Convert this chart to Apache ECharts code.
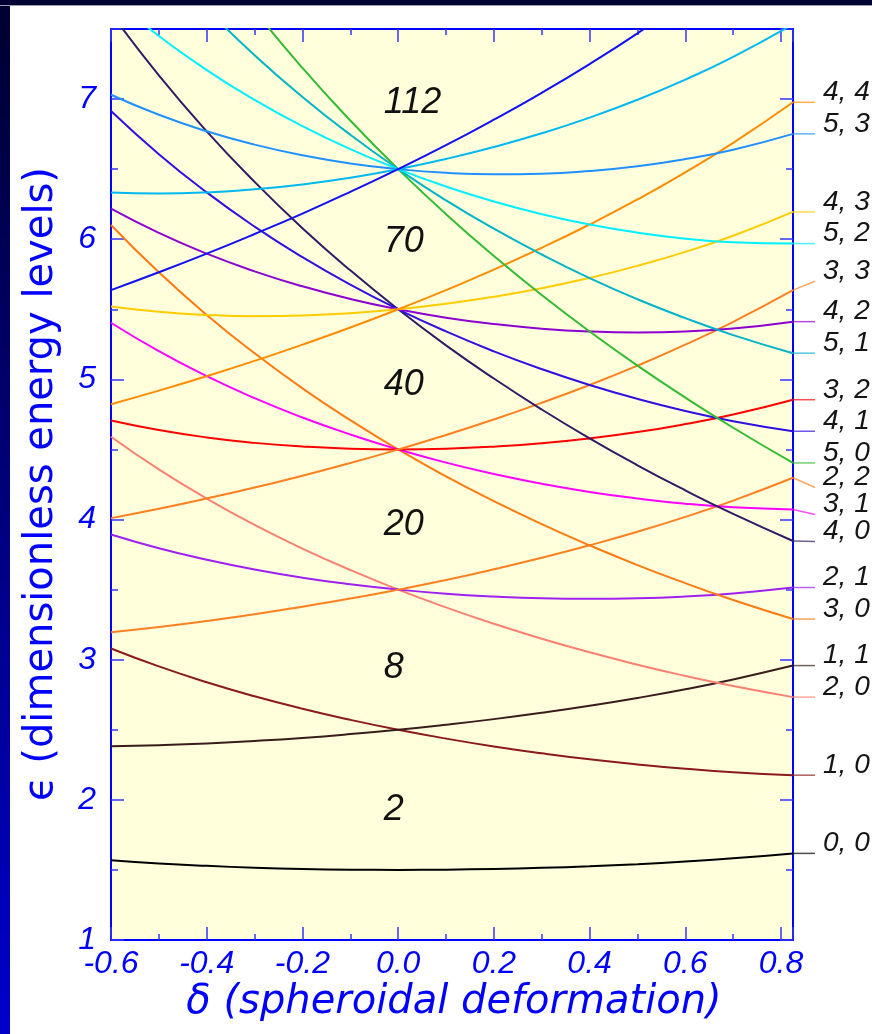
<!DOCTYPE html>
<html><head><meta charset="utf-8">
<script src="https://cdn.jsdelivr.net/npm/echarts@6/dist/echarts.min.js"></script>
<style>html,body{margin:0;padding:0;background:#fff;}#c{width:872px;height:1034px;}</style>
</head><body><div id="c"></div>
<script>
// deformation values (x)
const deltas = [-0.6, -0.5, -0.4, -0.3, -0.2, -0.1, 0, 0.1, 0.2, 0.3, 0.4, 0.5, 0.6, 0.7, 0.825];
// energy levels (N, n_perp)
const e_0_0 = [1.569,1.546,1.529,1.516,1.507,1.502,1.500,1.502,1.507,1.515,1.526,1.541,1.560,1.583,1.618];
const e_1_0 = [3.080,2.952,2.839,2.739,2.650,2.571,2.500,2.437,2.381,2.332,2.289,2.253,2.222,2.197,2.176];
const e_1_1 = [2.383,2.390,2.402,2.420,2.442,2.469,2.500,2.536,2.576,2.621,2.671,2.727,2.789,2.859,2.958];
const e_2_0 = [4.591,4.358,4.150,3.962,3.793,3.640,3.500,3.373,3.256,3.150,3.053,2.964,2.884,2.812,2.733];
const e_2_1 = [3.893,3.795,3.713,3.643,3.585,3.538,3.500,3.471,3.451,3.438,3.434,3.438,3.451,3.473,3.515];
const e_2_2 = [3.196,3.233,3.276,3.324,3.378,3.436,3.500,3.569,3.645,3.727,3.816,3.913,4.019,4.135,4.298];
const e_3_0 = [6.102,5.764,5.460,5.186,4.936,4.709,4.500,4.308,4.131,3.967,3.816,3.675,3.546,3.426,3.290];
const e_3_1 = [5.404,5.201,5.023,4.866,4.728,4.607,4.500,4.406,4.325,4.256,4.197,4.150,4.113,4.088,4.072];
const e_3_2 = [4.707,4.639,4.586,4.547,4.521,4.505,4.500,4.505,4.520,4.544,4.579,4.624,4.681,4.749,4.855];
const e_3_3 = [4.010,4.077,4.150,4.228,4.313,4.403,4.500,4.603,4.714,4.833,4.960,5.098,5.248,5.411,5.637];
const e_4_0 = [7.613,7.169,6.770,6.409,6.079,5.778,5.500,5.243,5.006,4.785,4.579,4.387,4.208,4.040,3.847];
const e_4_1 = [6.915,6.607,6.334,6.090,5.872,5.676,5.500,5.342,5.200,5.073,4.960,4.861,4.775,4.702,4.630];
const e_4_2 = [6.218,6.045,5.897,5.771,5.664,5.574,5.500,5.440,5.395,5.362,5.342,5.335,5.342,5.363,5.412];
const e_4_3 = [5.520,5.482,5.460,5.451,5.456,5.472,5.500,5.539,5.589,5.650,5.724,5.810,5.910,6.025,6.195];
const e_4_4 = [4.823,4.920,5.023,5.132,5.248,5.370,5.500,5.637,5.783,5.939,6.105,6.284,6.477,6.687,6.977];
const e_5_0 = [9.124,8.575,8.081,7.632,7.222,6.847,6.500,6.179,5.881,5.602,5.342,5.098,4.870,4.655,4.404];
const e_5_1 = [8.426,8.013,7.644,7.313,7.015,6.745,6.500,6.277,6.075,5.891,5.723,5.572,5.437,5.316,5.187];
const e_5_2 = [7.729,7.450,7.207,6.994,6.807,6.643,6.500,6.376,6.269,6.179,6.105,6.047,6.004,5.978,5.969];
const e_5_3 = [7.031,6.888,6.770,6.675,6.599,6.541,6.500,6.474,6.464,6.468,6.487,6.521,6.572,6.639,6.752];
const e_5_4 = [6.334,6.326,6.334,6.356,6.391,6.439,6.500,6.573,6.658,6.756,6.868,6.995,7.139,7.301,7.534];
const e_5_5 = [5.637,5.764,5.897,6.037,6.183,6.338,6.500,6.671,6.853,7.045,7.250,7.469,7.706,7.962,8.317];

const curveNames = ['0, 0','1, 0','1, 1','2, 0','2, 1','2, 2','3, 0','3, 1','3, 2','3, 3',
  '4, 0','4, 1','4, 2','4, 3','4, 4','5, 0','5, 1','5, 2','5, 3','5, 4','5, 5'];
const curveValues = [e_0_0,e_1_0,e_1_1,e_2_0,e_2_1,e_2_2,e_3_0,e_3_1,e_3_2,e_3_3,
  e_4_0,e_4_1,e_4_2,e_4_3,e_4_4,e_5_0,e_5_1,e_5_2,e_5_3,e_5_4,e_5_5];
const curveColors = ['#000000','#8b1a1a','#3a1c1c','#fa8072','#a020f0','#ff8020','#ff7a10','#ff00ff','#ff0000','#ff8020',
  '#2e1a66','#3010e0','#8c00d0','#ffcc00','#ff8c00','#33bb33','#00b4c8','#00f0ff','#2090ff','#00b8f0','#1010f0'];
// where each right-hand label's leader ends (energy units); null = no label
const labelEnds = [1.618,2.176,2.958,2.733,3.515,4.229,3.290,4.036,4.855,5.700,
  3.843,4.630,5.412,6.195,6.977,4.404,5.187,5.969,6.752,null,null];

// shell closure numbers written between the levels
const magicNumbers = ['2','8','20','40','70','112'];
const magicAt = [[-0.03,1.93],[-0.03,2.94],[-0.03,3.96],[-0.03,4.96],[-0.03,5.98],[-0.03,6.975]];

const xTitle = 'δ (spheroidal deformation)';
const yTitle = 'ϵ (dimensionless energy levels)';

const BLUE = '#0000ff';
const TICK = '#3535ff';
const chart = echarts.init(document.getElementById('c'), null, {renderer: 'canvas'});

function axisX(pos, grid, interval, len, labels) {
  return {
    type: 'value', gridIndex: grid, position: pos, min: -0.6, max: 0.825, interval: interval,
    axisLine: {show: true, onZero: false, lineStyle: {color: BLUE, width: 2}},
    axisTick: {show: true, inside: true, length: len, lineStyle: {color: TICK, width: 1.5}},
    splitLine: {show: false}, minorTick: {show: false},
    axisLabel: labels ? {
      show: true, margin: 8, color: BLUE, fontFamily: 'Liberation Sans', fontStyle: 'italic', fontSize: 32,
      formatter: v => (Math.abs(v / 0.2 - Math.round(v / 0.2)) < 1e-6 ? v.toFixed(1) : '')
    } : {show: false}
  };
}
function axisY(pos, grid, interval, len, labels) {
  return {
    type: 'value', gridIndex: grid, position: pos, min: 1, max: 7.5, interval: interval,
    axisLine: {show: true, onZero: false, lineStyle: {color: BLUE, width: 2}},
    axisTick: {show: true, inside: true, length: len, lineStyle: {color: TICK, width: 1.5}},
    splitLine: {show: false}, minorTick: {show: false},
    axisLabel: labels ? {
      show: true, margin: 15, color: BLUE, fontFamily: 'Liberation Sans', fontStyle: 'italic', fontSize: 32,
      formatter: v => (Math.abs(v - Math.round(v)) < 1e-6 ? String(Math.round(v)) : '')
    } : {show: false}
  };
}

const series = curveValues.map((vals, i) => ({
  type: 'line', name: curveNames[i], xAxisIndex: 0, yAxisIndex: 0,
  data: vals.map((v, j) => [deltas[j], v]),
  smooth: true, showSymbol: false, symbol: 'none', clip: true, silent: true,
  lineStyle: {color: curveColors[i], width: 2},
  z: 3
}));
series.push({type: 'line', xAxisIndex: 2, yAxisIndex: 2, data: [], showSymbol: false});

const gridRect = {left: 111, top: 29, width: 682, height: 911, outerBoundsMode: 'none'};
chart.setOption({
  animation: false,
  backgroundColor: '#ffffff',
  grid: [
    Object.assign({show: true, backgroundColor: '#ffffdc', borderWidth: 0}, gridRect),
    Object.assign({show: false}, gridRect)
  ],
  xAxis: [axisX('bottom', 0, 0.2, 13, true), axisX('top', 0, 0.2, 13, false),
          axisX('bottom', 1, 0.1, 6, false), axisX('top', 1, 0.1, 6, false)],
  yAxis: [axisY('left', 0, 1, 13, true), axisY('right', 0, 1, 13, false),
          axisY('left', 1, 0.5, 7, false), axisY('right', 1, 0.5, 7, false)],
  series: series
});

const P = (x, y) => chart.convertToPixel({gridIndex: 0}, [x, y]);
const gfx = [];
// page decorations
gfx.push({type: 'rect', shape: {x: 0, y: 0, width: 10, height: 1034}, z: 0,
  style: {fill: new echarts.graphic.LinearGradient(0, 0, 0, 1, [{offset: 0, color: '#000030'}, {offset: 1, color: '#0000cc'}])}});
gfx.push({type: 'rect', shape: {x: 0, y: 0, width: 872, height: 5}, z: 0, style: {fill: '#000033'}});
gfx.push({type: 'rect', shape: {x: 0, y: 5, width: 872, height: 1}, z: 0, style: {fill: '#9a9ab8'}});

// right-hand labels with leader lines
curveValues.forEach((vals, i) => {
  if (labelEnds[i] == null) return;
  const endPt = P(deltas[deltas.length - 1], vals[vals.length - 1]);
  const lab = P(deltas[deltas.length - 1], labelEnds[i]);
  gfx.push({type: 'polyline', z: 5, shape: {points: [[endPt[0], endPt[1]], [endPt[0] + 22, lab[1]]]},
    style: {stroke: curveColors[i], lineWidth: 1.5, opacity: 0.7}});
  gfx.push({type: 'text', z: 5, style: {text: curveNames[i], x: endPt[0] + 30, y: lab[1] - 10,
    font: 'italic 28px "Liberation Sans"', fill: '#151515', align: 'left', verticalAlign: 'middle'}});
});

// magic numbers
magicNumbers.forEach((t, i) => {
  const p = P(magicAt[i][0], magicAt[i][1]);
  gfx.push({type: 'text', z: 6, style: {text: t, x: p[0], y: p[1],
    font: 'italic 36px "Liberation Sans"', fill: '#111111', align: 'left', verticalAlign: 'middle'}});
});

// axis titles
gfx.push({type: 'text', z: 6, x: 42, y: 484, rotation: Math.PI / 2,
  style: {text: yTitle, x: 0, y: 0, font: '40px "DejaVu Sans"', fill: BLUE, align: 'center', verticalAlign: 'middle'}});
gfx.push({type: 'text', z: 6, style: {text: xTitle, x: 454, y: 1003,
  font: 'italic 40px "DejaVu Sans"', fill: BLUE, align: 'center', verticalAlign: 'middle'}});

chart.setOption({graphic: gfx});
</script>
</body></html>
